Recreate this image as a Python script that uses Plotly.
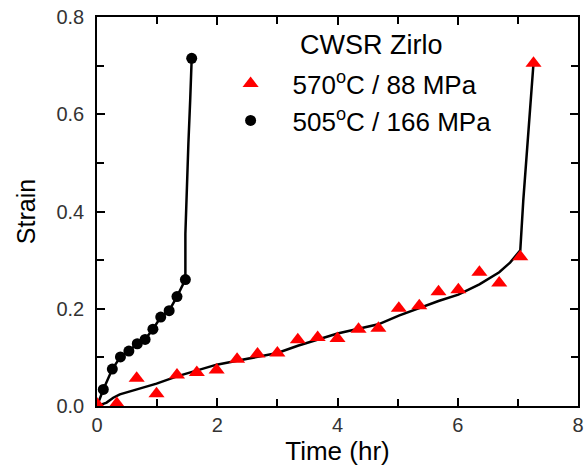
import plotly.graph_objects as go

# 570 C / 88 MPa data (triangles)
t_570 = [0.0, 0.33, 0.66, 0.99, 1.33, 1.66, 1.99, 2.33, 2.67, 3.0, 3.34, 3.67, 4.0,
         4.35, 4.68, 5.02, 5.36, 5.68, 6.01, 6.36, 6.69, 7.04, 7.26]
s_570 = [0.004, 0.005, 0.057, 0.025, 0.064, 0.069, 0.074, 0.096, 0.107, 0.109, 0.136,
         0.141, 0.139, 0.158, 0.160, 0.201, 0.206, 0.235, 0.239, 0.275, 0.253, 0.307, 0.705]

# 570 C fit curve
tf_570 = [0.0, 0.16, 0.27, 0.38, 0.55, 0.99, 1.33, 1.99, 2.33, 3.0, 3.34, 4.0, 4.68,
          5.02, 5.68, 6.01, 6.36, 6.69, 6.87, 7.04, 7.09, 7.15, 7.2, 7.26]
sf_570 = [0.0, 0.007, 0.017, 0.024, 0.030, 0.046, 0.061, 0.085, 0.093, 0.109, 0.124,
          0.149, 0.168, 0.186, 0.216, 0.229, 0.25, 0.275, 0.295, 0.32, 0.423, 0.526,
          0.615, 0.705]

# 505 C / 166 MPa data (circles)
t_505 = [0.105, 0.255, 0.39, 0.53, 0.67, 0.80, 0.93, 1.06, 1.20, 1.33, 1.47, 1.575]
s_505 = [0.034, 0.076, 0.101, 0.113, 0.128, 0.137, 0.158, 0.183, 0.196, 0.225, 0.260, 0.715]

# 505 C fit curve
tf_505 = [0.0, 0.105, 0.255, 0.39, 0.53, 0.67, 0.80, 0.93, 1.06, 1.20, 1.33, 1.47,
          1.47, 1.49, 1.52, 1.55, 1.575]
sf_505 = [0.0, 0.034, 0.076, 0.101, 0.113, 0.128, 0.137, 0.158, 0.183, 0.196, 0.225,
          0.260, 0.354, 0.443, 0.54, 0.629, 0.715]

FONT = "Liberation Sans, Arial, sans-serif"

fig = go.Figure()
fig.add_trace(go.Scatter(x=tf_570, y=sf_570, mode="lines",
                         line=dict(color="black", width=2.5), showlegend=False,
                         hoverinfo="skip"))
fig.add_trace(go.Scatter(x=tf_505, y=sf_505, mode="lines",
                         line=dict(color="black", width=2.5), showlegend=False,
                         hoverinfo="skip"))
fig.add_trace(go.Scatter(x=t_570, y=s_570, mode="markers",
                         name="570<sup>o</sup>C / 88 MPa", legendgroup="a",
                         marker=dict(symbol="triangle-up", size=14, color="#ff0000",
                                     line=dict(width=0))))
fig.add_trace(go.Scatter(x=t_505, y=s_505, mode="markers",
                         name="505<sup>o</sup>C / 166 MPa", legendgroup="b",
                         marker=dict(symbol="circle", size=11, color="black",
                                     line=dict(width=0))))

axis_common = dict(
    showline=True, linecolor="#000000", linewidth=1.5, mirror="allticks",
    ticks="inside", ticklen=8, tickwidth=2, tickcolor="#000000",
    showgrid=False, zeroline=False, automargin=False,
    tickfont=dict(family=FONT, size=20, color="#333333"),
)

fig.update_layout(
    width=584, height=472,
    margin=dict(l=97, r=6, t=17, b=66),
    paper_bgcolor="white", plot_bgcolor="white",
    font=dict(family=FONT, color="black"),
    xaxis=dict(range=[0, 8], dtick=2, tick0=0,
               minor=dict(dtick=1, ticks="inside", ticklen=7, tickwidth=2,
                          tickcolor="#000000"),
               title=dict(text="Time (hr)", font=dict(family=FONT, size=26, color="black"),
                          standoff=5),
               ticklabelstandoff=0, **axis_common),
    yaxis=dict(range=[0, 0.8], dtick=0.2, tick0=0, tickformat=".1f",
               minor=dict(dtick=0.1, ticks="inside", ticklen=7, tickwidth=2,
                          tickcolor="#000000"),
               title=dict(text="Strain", font=dict(family=FONT, size=25, color="black"),
                          standoff=14),
               ticklabelstandoff=7, **axis_common),
    legend=dict(x=0.232, y=0.889, xanchor="left", yanchor="top",
                bgcolor="rgba(0,0,0,0)", borderwidth=0,
                font=dict(family=FONT, size=26, color="black"),
                traceorder="normal", itemwidth=74),
    annotations=[dict(text="CWSR Zirlo", x=0.418, y=0.928, xref="paper", yref="paper",
                      xanchor="left", yanchor="middle", showarrow=False,
                      font=dict(family=FONT, size=27, color="black"))],
)

fig.write_html("out.html", config={"displayModeBar": False},
               post_script="document.body.style.margin='0';document.body.style.padding='0';")
